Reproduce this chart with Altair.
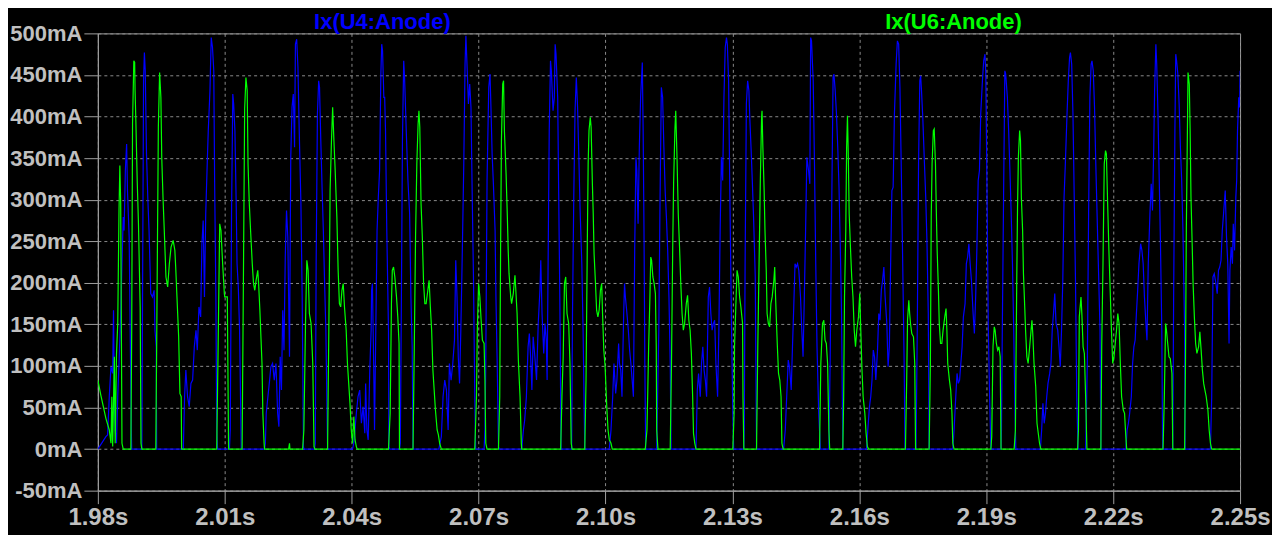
import altair as alt
import pandas as pd

# time in ms, current in mA
X_TICKS = [1980, 2010, 2040, 2070, 2100, 2130, 2160, 2190, 2220, 2250]
Y_TICKS = [-50, 0, 50, 100, 150, 200, 250, 300, 350, 400, 450, 500]

U4 = [
    (1980.0, 0), (1981.9, 15), (1982.3, 17), (1982.7, 63), (1983.1, 99), (1983.5, 91), (1983.7, 167),
    (1983.9, 63), (1984.1, 23), (1984.4, 7), (1984.7, 63), (1985.0, 103), (1985.4, 163), (1985.7, 223),
    (1986.0, 279), (1986.2, 263), (1986.5, 335), (1986.8, 367), (1987.0, 311), (1987.4, 255),
    (1987.6, 163), (1987.9, 23), (1988.0, 0),
    (1990.4, 0), (1990.6, 223), (1990.8, 443), (1991.0, 477), (1991.2, 455), (1991.5, 355), (1991.8, 303),
    (1992.1, 263), (1992.5, 187), (1992.9, 183), (1993.3, 191), (1993.5, 143), (1993.8, 123), (1993.9, 0),
    (2000.2, 0), (2000.5, 63), (2000.8, 95), (2001.2, 63), (2001.6, 51), (2002.0, 79), (2002.4, 83),
    (2002.8, 123), (2003.2, 143), (2003.5, 119), (2003.9, 171), (2004.3, 159), (2004.6, 247),
    (2004.9, 275), (2005.2, 183), (2005.5, 283), (2005.9, 351), (2006.1, 383), (2006.5, 431),
    (2006.8, 495), (2007.1, 483), (2007.4, 455), (2007.6, 323), (2007.9, 183), (2008.1, 23), (2008.3, 0),
    (2011.1, 0), (2011.3, 23), (2011.6, 283), (2011.9, 427), (2012.1, 415), (2012.4, 383), (2012.7, 295),
    (2012.9, 223), (2013.2, 195), (2013.5, 143), (2013.7, 71), (2013.9, 0),
    (2019.4, 0), (2019.6, 7), (2019.8, 43), (2020.2, 63), (2020.6, 83), (2020.9, 99), (2021.3, 103),
    (2021.7, 83), (2022.1, 103), (2022.5, 43), (2022.8, 27), (2023.1, 111), (2023.4, 71), (2023.7, 167),
    (2024.0, 119), (2024.3, 231), (2024.6, 287), (2024.9, 255), (2025.1, 183), (2025.3, 111),
    (2025.6, 351), (2025.9, 411), (2026.2, 427), (2026.5, 363), (2026.7, 487), (2027.0, 493),
    (2027.3, 459), (2027.6, 383), (2028.0, 295), (2028.3, 183), (2028.6, 3), (2028.7, 0),
    (2031.2, 0), (2031.4, 7), (2031.6, 223), (2031.9, 403), (2032.2, 443), (2032.4, 435), (2032.7, 371),
    (2033.0, 315), (2033.3, 263), (2033.6, 199), (2033.9, 143), (2034.3, 0),
    (2040.2, 0), (2040.5, 7), (2041.1, 43), (2041.5, 63), (2041.9, 71), (2042.3, 31), (2042.7, 51),
    (2043.1, 19), (2043.3, 79), (2043.6, 23), (2043.9, 11), (2044.3, 99), (2044.6, 143), (2044.7, 191),
    (2044.9, 199), (2045.2, 103), (2045.4, 23), (2045.7, 143), (2046.0, 263), (2046.3, 303),
    (2046.6, 335), (2046.9, 451), (2047.1, 487), (2047.3, 479), (2047.6, 423), (2047.8, 423),
    (2048.0, 383), (2048.3, 263), (2048.7, 143), (2048.8, 3), (2049.0, 0),
    (2051.3, 0), (2051.5, 7), (2051.7, 143), (2052.0, 371), (2052.3, 467), (2052.5, 447), (2052.9, 383),
    (2053.3, 323), (2053.7, 283), (2054.0, 183), (2054.3, 123), (2054.5, 0),
    (2060.6, 0), (2061.2, 15), (2061.6, 63), (2062.0, 83), (2062.4, 71), (2062.8, 23), (2063.1, 103),
    (2063.5, 83), (2063.9, 103), (2064.3, 131), (2064.6, 227), (2064.9, 183), (2065.2, 111),
    (2065.5, 79), (2065.8, 143), (2066.1, 223), (2066.5, 343), (2066.8, 463), (2067.0, 497),
    (2067.2, 471), (2067.6, 415), (2067.9, 439), (2068.2, 411), (2068.5, 303), (2068.8, 203),
    (2069.1, 63), (2069.3, 0),
    (2071.3, 0), (2071.5, 23), (2071.7, 103), (2072.0, 323), (2072.4, 435), (2072.7, 451), (2072.9, 415),
    (2073.2, 355), (2073.5, 319), (2073.9, 263), (2074.1, 183), (2074.4, 103), (2074.7, 3), (2074.9, 0),
    (2080.2, 0), (2080.6, 23), (2080.9, 35), (2081.3, 63), (2081.7, 123), (2082.0, 139), (2082.3, 111),
    (2082.6, 71), (2082.9, 135), (2083.3, 111), (2083.7, 83), (2084.1, 151), (2084.5, 191),
    (2084.7, 227), (2085.0, 163), (2085.4, 115), (2085.7, 151), (2086.0, 131), (2086.2, 83),
    (2086.5, 263), (2086.7, 383), (2087.0, 467), (2087.2, 455), (2087.6, 407), (2087.9, 423),
    (2088.1, 487), (2088.3, 475), (2088.7, 423), (2088.9, 323), (2089.2, 183), (2089.5, 0),
    (2092.0, 0), (2092.2, 163), (2092.5, 303), (2092.8, 407), (2093.1, 447), (2093.4, 411), (2093.7, 351),
    (2094.0, 287), (2094.4, 223), (2094.7, 143), (2095.1, 0),
    (2100.9, 0), (2101.3, 23), (2101.7, 63), (2102.0, 103), (2102.4, 67), (2102.7, 83), (2103.1, 127),
    (2103.3, 103), (2103.6, 95), (2103.9, 63), (2104.3, 163), (2104.5, 199), (2104.7, 183),
    (2105.0, 167), (2105.4, 143), (2105.7, 119), (2106.0, 103), (2106.3, 83), (2106.6, 63),
    (2106.9, 239), (2107.2, 351), (2107.4, 335), (2107.7, 271), (2108.0, 363), (2108.3, 423),
    (2108.7, 465), (2108.9, 383), (2109.1, 263), (2109.3, 103), (2109.5, 0),
    (2112.1, 0), (2112.6, 143), (2112.9, 303), (2113.2, 435), (2113.5, 423), (2113.8, 363), (2114.1, 311),
    (2114.4, 279), (2114.7, 239), (2115.0, 183), (2115.3, 103), (2115.5, 0),
    (2121.4, 0), (2121.7, 71), (2122.0, 91), (2122.4, 63), (2122.7, 103), (2123.0, 123), (2123.3, 95),
    (2123.6, 83), (2123.9, 63), (2124.3, 183), (2124.6, 195), (2124.9, 163), (2125.2, 143),
    (2125.5, 151), (2125.8, 155), (2126.1, 103), (2126.5, 63), (2126.8, 143), (2127.1, 263),
    (2127.4, 351), (2127.7, 323), (2128.0, 423), (2128.3, 483), (2128.6, 495), (2128.8, 487),
    (2129.1, 443), (2129.4, 303), (2129.8, 143), (2130.1, 43), (2130.3, 0),
    (2132.7, 0), (2132.8, 23), (2133.0, 223), (2133.3, 415), (2133.6, 443), (2133.9, 431), (2134.1, 399),
    (2134.4, 363), (2134.7, 323), (2135.0, 279), (2135.4, 207), (2135.7, 0),
    (2142.1, 0), (2142.5, 23), (2142.9, 71), (2143.2, 107), (2143.5, 99), (2143.9, 71), (2144.2, 123),
    (2144.5, 171), (2144.8, 223), (2145.1, 219), (2145.4, 223), (2145.7, 215), (2146.1, 183),
    (2146.4, 143), (2146.7, 111), (2147.0, 183), (2147.3, 263), (2147.6, 351), (2148.0, 335),
    (2148.3, 319), (2148.5, 495), (2148.7, 491), (2149.1, 443), (2149.4, 343), (2149.7, 223),
    (2150.0, 123), (2150.4, 43), (2150.8, 0),
    (2152.8, 0), (2153.1, 103), (2153.5, 303), (2153.8, 447), (2154.0, 451), (2154.3, 431), (2154.6, 403),
    (2154.9, 363), (2155.2, 315), (2155.5, 243), (2155.8, 163), (2156.1, 0),
    (2161.7, 0), (2162.0, 23), (2162.4, 51), (2162.7, 63), (2163.0, 83), (2163.3, 119), (2163.6, 111),
    (2163.9, 83), (2164.3, 119), (2164.6, 163), (2164.9, 155), (2165.2, 191), (2165.5, 203),
    (2165.8, 219), (2166.1, 183), (2166.5, 151), (2166.8, 99), (2167.1, 123), (2167.4, 223),
    (2167.7, 311), (2168.0, 315), (2168.3, 403), (2168.7, 463), (2169.0, 491), (2169.3, 487),
    (2169.6, 435), (2169.9, 343), (2170.2, 243), (2170.6, 103), (2170.8, 0),
    (2173.4, 0), (2173.7, 143), (2174.0, 343), (2174.3, 443), (2174.5, 449), (2174.7, 431), (2175.0, 399),
    (2175.4, 343), (2175.7, 303), (2176.0, 247), (2176.3, 163), (2176.5, 0),
    (2182.1, 0), (2182.4, 23), (2182.8, 63), (2183.1, 91), (2183.4, 79), (2183.7, 83), (2184.0, 103),
    (2184.3, 123), (2184.6, 159), (2185.0, 175), (2185.3, 223), (2185.6, 231), (2185.9, 247),
    (2186.2, 223), (2186.5, 203), (2186.9, 163), (2187.2, 139), (2187.5, 183), (2187.8, 243),
    (2188.1, 323), (2188.4, 335), (2188.7, 403), (2189.1, 443), (2189.4, 467), (2189.7, 475),
    (2189.9, 451), (2190.2, 303), (2190.5, 143), (2190.8, 63), (2191.1, 0),
    (2193.5, 0), (2193.6, 23), (2193.8, 143), (2194.1, 303), (2194.4, 455), (2194.6, 451), (2195.0, 423),
    (2195.3, 383), (2195.6, 335), (2195.9, 283), (2196.2, 223), (2196.5, 143), (2196.8, 43), (2197.0, 0),
    (2202.8, 0), (2203.1, 23), (2203.4, 55), (2203.7, 31), (2204.0, 43), (2204.3, 63), (2204.6, 79),
    (2205.0, 91), (2205.3, 103), (2205.6, 143), (2205.9, 163), (2206.2, 187), (2206.5, 151),
    (2206.9, 143), (2207.2, 123), (2207.5, 99), (2207.8, 143), (2208.1, 203), (2208.4, 303),
    (2208.7, 343), (2209.1, 403), (2209.4, 443), (2209.7, 471), (2209.9, 477), (2210.2, 463),
    (2210.5, 403), (2210.8, 303), (2211.1, 203), (2211.4, 63), (2211.7, 0),
    (2213.5, 0), (2213.9, 103), (2214.2, 283), (2214.5, 423), (2214.8, 463), (2215.0, 467), (2215.3, 455),
    (2215.6, 411), (2215.9, 343), (2216.2, 283), (2216.5, 223), (2216.9, 143), (2217.1, 0),
    (2223.0, 0), (2223.3, 23), (2223.6, 31), (2223.9, 43), (2224.3, 63), (2224.6, 103), (2224.9, 123),
    (2225.2, 131), (2225.5, 163), (2225.8, 191), (2226.1, 223), (2226.5, 247), (2226.8, 239),
    (2227.1, 223), (2227.4, 183), (2227.7, 155), (2228.0, 131), (2228.3, 223), (2228.7, 283),
    (2229.0, 319), (2229.3, 287), (2229.6, 363), (2229.8, 431), (2230.1, 487), (2230.3, 463),
    (2230.6, 403), (2230.9, 323), (2231.2, 243), (2231.5, 143), (2231.7, 0),
    (2234.1, 0), (2234.3, 183), (2234.6, 383), (2234.8, 475), (2235.0, 467), (2235.3, 451), (2235.6, 415),
    (2235.9, 363), (2236.2, 323), (2236.5, 263), (2236.9, 143), (2237.0, 0),
    (2243.0, 0), (2243.3, 63), (2243.6, 207), (2243.9, 211), (2244.3, 199), (2244.6, 187), (2244.9, 215),
    (2245.2, 219), (2245.5, 227), (2245.8, 263), (2246.1, 283), (2246.5, 311), (2246.8, 255),
    (2247.1, 223), (2247.4, 127), (2247.6, 215), (2247.9, 243), (2248.2, 223), (2248.4, 271),
    (2248.7, 239), (2249.0, 303), (2249.2, 323), (2249.4, 383), (2249.7, 423), (2249.9, 411),
    (2250.0, 455),
]

U6 = [
    (1980.0, 83), (1980.7, 65), (1981.9, 37), (1982.7, 23), (1983.1, 7), (1983.3, 63), (1983.5, 3),
    (1983.9, 111), (1984.1, 7), (1984.4, 113), (1984.7, 151), (1985.0, 287), (1985.2, 341),
    (1985.4, 295), (1985.7, 7), (1986.0, 0),
    (1987.8, 0), (1988.0, 143), (1988.2, 391), (1988.5, 467), (1988.7, 465), (1988.8, 431), (1989.0, 391),
    (1989.3, 323), (1989.6, 271), (1990.0, 171), (1990.2, 7), (1990.4, 0),
    (1993.7, 0), (1993.9, 123), (1994.3, 387), (1994.6, 453), (1994.9, 423), (1995.1, 351), (1995.4, 303),
    (1995.7, 263), (1996.1, 207), (1996.5, 195), (1996.9, 223), (1997.3, 243), (1997.8, 251),
    (1998.2, 239), (1998.4, 219), (1998.7, 183), (1999.1, 135), (1999.4, 67), (1999.7, 63), (1999.8, 0),
    (2008.1, 0), (2008.4, 111), (2008.8, 271), (2009.1, 263), (2009.5, 223), (2009.9, 187),
    (2010.0, 183), (2010.6, 183), (2010.9, 0),
    (2014.1, 0), (2014.4, 199), (2014.7, 409), (2015.0, 447), (2015.3, 431), (2015.5, 343), (2015.8, 295),
    (2016.1, 263), (2016.5, 223), (2016.8, 199), (2017.1, 191), (2017.4, 203), (2017.8, 215),
    (2018.0, 199), (2018.3, 167), (2018.8, 103), (2019.0, 43), (2019.3, 7), (2019.4, 0),
    (2025.1, 0), (2025.3, 7), (2025.4, 0),
    (2028.4, 0), (2028.7, 23), (2029.1, 155), (2029.4, 227), (2029.7, 215), (2030.0, 163), (2030.4, 151),
    (2030.8, 103), (2031.1, 3), (2031.3, 0),
    (2034.3, 0), (2034.6, 143), (2034.9, 311), (2035.2, 367), (2035.5, 411), (2035.8, 371), (2036.1, 335),
    (2036.5, 279), (2036.8, 215), (2037.1, 175), (2037.4, 171), (2037.7, 191), (2038.0, 199),
    (2038.3, 171), (2038.7, 143), (2039.0, 103), (2039.3, 79), (2039.6, 55), (2039.9, 23),
    (2040.2, 7), (2040.5, 39), (2040.8, 11), (2041.1, 3), (2041.3, 0),
    (2048.7, 0), (2049.1, 43), (2049.4, 175), (2049.6, 215), (2049.9, 219), (2050.2, 207), (2050.6, 183),
    (2050.9, 159), (2051.2, 127), (2051.3, 0),
    (2054.5, 0), (2054.8, 123), (2055.1, 255), (2055.4, 343), (2055.7, 391), (2055.9, 407), (2056.1, 387),
    (2056.4, 295), (2056.7, 255), (2057.0, 199), (2057.3, 175), (2057.6, 175), (2058.0, 191),
    (2058.3, 203), (2058.6, 171), (2058.9, 143), (2059.2, 95), (2059.5, 71), (2059.8, 47),
    (2060.2, 23), (2060.5, 17), (2060.8, 7), (2061.2, 0),
    (2069.1, 0), (2069.5, 63), (2069.7, 143), (2070.0, 199), (2070.3, 183), (2070.6, 155), (2070.9, 131),
    (2071.3, 127), (2071.5, 83), (2071.7, 7), (2072.0, 0),
    (2074.7, 0), (2075.0, 63), (2075.2, 239), (2075.4, 371), (2075.7, 439), (2075.9, 443), (2076.1, 383),
    (2076.5, 331), (2076.8, 279), (2077.0, 239), (2077.2, 211), (2077.6, 183), (2077.8, 175),
    (2078.2, 187), (2078.6, 209), (2078.8, 191), (2079.1, 163), (2079.4, 107), (2079.8, 63),
    (2080.1, 7), (2080.2, 0),
    (2089.4, 0), (2089.7, 63), (2090.0, 111), (2090.3, 199), (2090.6, 207), (2090.9, 163), (2091.3, 151),
    (2091.6, 103), (2091.9, 7), (2092.1, 0),
    (2095.1, 0), (2095.4, 83), (2095.7, 247), (2095.9, 343), (2096.1, 383), (2096.4, 399), (2096.6, 387),
    (2096.9, 319), (2097.1, 283), (2097.3, 235), (2097.6, 203), (2097.9, 167), (2098.2, 159),
    (2098.5, 167), (2098.8, 191), (2099.1, 199), (2099.3, 163), (2099.6, 119), (2099.9, 100),
    (2100.3, 51), (2100.6, 23), (2100.9, 11), (2101.3, 7), (2101.6, 0),
    (2109.4, 0), (2109.8, 23), (2110.0, 71), (2110.2, 123), (2110.5, 183), (2110.7, 231), (2110.9, 227),
    (2111.2, 207), (2111.5, 199), (2111.8, 187), (2112.0, 123), (2112.1, 23), (2112.4, 0),
    (2115.3, 0), (2115.6, 103), (2115.9, 247), (2116.1, 319), (2116.4, 383), (2116.6, 407), (2116.9, 351),
    (2117.2, 283), (2117.5, 243), (2117.8, 199), (2118.1, 163), (2118.4, 143), (2118.7, 151),
    (2119.1, 175), (2119.4, 185), (2119.7, 155), (2120.0, 143), (2120.3, 115), (2120.6, 63),
    (2120.8, 19), (2121.1, 7), (2121.4, 0),
    (2130.1, 0), (2130.4, 43), (2130.5, 123), (2130.8, 171), (2131.1, 215), (2131.4, 207), (2131.7, 183),
    (2132.0, 171), (2132.4, 151), (2132.5, 63), (2132.7, 0),
    (2135.7, 0), (2136.0, 123), (2136.3, 223), (2136.6, 323), (2136.9, 399), (2137.0, 407), (2137.2, 363),
    (2137.5, 311), (2137.7, 263), (2138.0, 215), (2138.2, 163), (2138.5, 151), (2138.8, 147),
    (2139.1, 175), (2139.4, 183), (2139.8, 203), (2140.0, 219), (2140.2, 183), (2140.6, 127),
    (2140.9, 91), (2141.2, 83), (2141.5, 63), (2141.7, 7), (2142.0, 0),
    (2150.6, 0), (2150.9, 103), (2151.3, 151), (2151.6, 155), (2151.9, 131), (2152.2, 127), (2152.5, 103),
    (2152.8, 23), (2153.0, 0),
    (2156.1, 0), (2156.3, 63), (2156.5, 183), (2156.8, 263), (2157.0, 363), (2157.2, 401), (2157.4, 351),
    (2157.6, 283), (2157.9, 243), (2158.2, 207), (2158.5, 183), (2158.8, 143), (2159.1, 123),
    (2159.4, 143), (2159.8, 159), (2160.1, 187), (2160.3, 151), (2160.6, 99), (2160.9, 63),
    (2161.3, 43), (2161.6, 19), (2161.9, 3), (2162.2, 0),
    (2170.9, 0), (2171.2, 83), (2171.4, 155), (2171.7, 179), (2171.9, 163), (2172.1, 151), (2172.4, 139),
    (2172.8, 135), (2173.1, 103), (2173.3, 0),
    (2176.5, 0), (2176.8, 103), (2177.0, 279), (2177.2, 343), (2177.5, 383), (2177.7, 385), (2178.0, 343),
    (2178.2, 287), (2178.4, 239), (2178.7, 191), (2178.9, 151), (2179.2, 127), (2179.5, 127),
    (2179.8, 143), (2180.2, 159), (2180.5, 169), (2180.7, 143), (2180.9, 103), (2181.3, 83),
    (2181.6, 71), (2181.9, 43), (2182.1, 7), (2182.4, 0),
    (2191.1, 0), (2191.3, 15), (2191.6, 123), (2191.9, 147), (2192.1, 143), (2192.4, 127), (2192.7, 119),
    (2193.0, 123), (2193.3, 111), (2193.5, 0),
    (2196.6, 0), (2196.9, 23), (2197.2, 195), (2197.4, 291), (2197.6, 351), (2197.9, 383), (2198.1, 371),
    (2198.3, 303), (2198.6, 263), (2198.8, 211), (2199.1, 171), (2199.3, 143), (2199.6, 111),
    (2199.9, 103), (2200.2, 119), (2200.6, 143), (2200.8, 155), (2201.0, 139), (2201.3, 103),
    (2201.7, 75), (2202.0, 31), (2202.3, 19), (2202.6, 7), (2202.9, 0),
    (2211.6, 0), (2211.8, 23), (2212.0, 159), (2212.4, 183), (2212.6, 163), (2212.9, 123), (2213.2, 115),
    (2213.5, 63), (2213.8, 0),
    (2217.1, 0), (2217.3, 123), (2217.6, 223), (2217.9, 343), (2218.2, 359), (2218.4, 355), (2218.7, 295),
    (2219.0, 239), (2219.3, 191), (2219.6, 143), (2219.9, 103), (2220.2, 111), (2220.5, 127),
    (2220.8, 143), (2221.1, 163), (2221.4, 151), (2221.7, 103), (2222.0, 63), (2222.4, 47),
    (2222.7, 43), (2223.0, 15), (2223.2, 0),
    (2231.8, 0), (2232.1, 63), (2232.4, 151), (2232.6, 143), (2232.9, 127), (2233.2, 111), (2233.5, 109),
    (2233.9, 91), (2234.1, 0),
    (2236.9, 0), (2237.1, 103), (2237.3, 263), (2237.6, 403), (2237.7, 453), (2238.0, 439), (2238.2, 383),
    (2238.4, 303), (2238.7, 243), (2238.9, 199), (2239.2, 159), (2239.5, 127), (2239.8, 115),
    (2240.2, 123), (2240.5, 141), (2240.8, 119), (2241.1, 95), (2241.4, 79), (2241.7, 71),
    (2242.0, 63), (2242.4, 47), (2242.7, 23), (2243.0, 7), (2243.3, 0),
    (2250.0, 0),
]

SERIES = [("Ix(U4:Anode)", "#0000ff", U4), ("Ix(U6:Anode)", "#00ff00", U6)]

rows = []
for name, color, pts in SERIES:
    for i, (t, v) in enumerate(pts):
        rows.append({"series": name, "t": t, "i": v, "k": i})
df = pd.DataFrame(rows)

LABEL_FONT = "Liberation Sans"

x_enc = alt.X(
    "t:Q",
    scale=alt.Scale(domain=[1980, 2250], nice=False, zero=False),
    axis=alt.Axis(
        values=X_TICKS,
        labelExpr="format(datum.value / 1000, '.2f') + 's'",
        title=None,
        grid=True,
        gridColor="#8a8a8a",
        gridDash=[3, 3],
        gridWidth=1,
        tickSize=13,
        tickColor="#a0a0a0",
        domainColor="#a0a0a0",
        labelColor="#c0c0c0",
        labelFont=LABEL_FONT,
        labelFontWeight="bold",
        labelFontSize=24,
        labelPadding=2,
        labelFlush=False,
    ),
)
y_enc = alt.Y(
    "i:Q",
    scale=alt.Scale(domain=[-50, 500], nice=False, zero=False),
    axis=alt.Axis(
        values=Y_TICKS,
        labelExpr="datum.value + 'mA'",
        title=None,
        grid=True,
        gridColor="#8a8a8a",
        gridDash=[3, 3],
        gridWidth=1,
        tickSize=14,
        tickColor="#a0a0a0",
        domainColor="#a0a0a0",
        labelColor="#c0c0c0",
        labelFont=LABEL_FONT,
        labelFontWeight="bold",
        labelFontSize=22,
        labelPadding=2,
        labelFlush=False,
    ),
)

layers = []
for name, color, pts in SERIES:
    layers.append(
        alt.Chart(df[df.series == name])
        .mark_line(color=color, strokeWidth=1.2, interpolate="linear", clip=True)
        .encode(x=x_enc, y=y_enc, order=alt.Order("k:Q"))
    )

legend_pos = [285, 857]
for (name, color, _), px in zip(SERIES, legend_pos):
    layers.append(
        alt.Chart(pd.DataFrame({"label": [name]}))
        .mark_text(color=color, font=LABEL_FONT, fontWeight="bold", fontSize=22,
                   align="center", baseline="middle")
        .encode(text="label:N", x=alt.value(px), y=alt.value(-11))
    )

chart = (
    alt.layer(*layers)
    .properties(
        width=1144,
        height=458,
        padding={"left": 90, "top": 25, "right": 32, "bottom": 44},
        autosize=alt.AutoSizeParams(type="none"),
        background="#000000",
    )
    .configure_view(stroke="#a0a0a0", strokeWidth=1, fill="#000000")
)

chart.save("out.html", embed_options={"renderer": "svg", "actions": False})
